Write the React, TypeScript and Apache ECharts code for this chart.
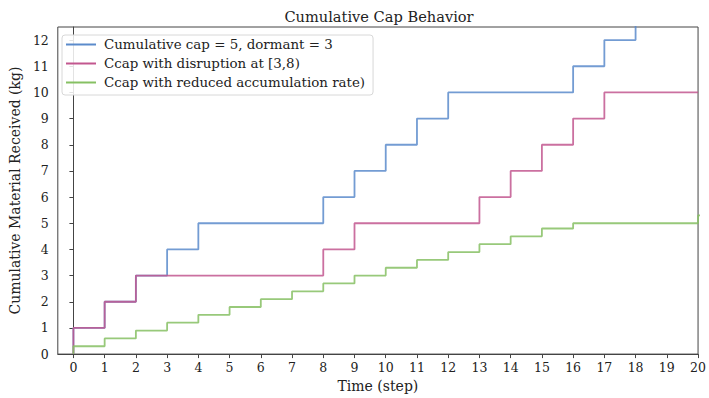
import React, { useEffect, useRef } from "react";
import * as echarts from "echarts";

const steps = [0, 1, 2, 3, 4, 5, 6, 7, 8, 9, 10, 11, 12, 13, 14, 15, 16, 17, 18, 19, 20, 21];
const cumulativeCap = [0, 1, 2, 3, 4, 5, 5, 5, 5, 6, 7, 8, 9, 10, 10, 10, 10, 11, 12, 13, 13];
const disruption = [0, 1, 2, 3, 3, 3, 3, 3, 3, 4, 5, 5, 5, 5, 6, 7, 8, 9, 10, 10, 10];
const reducedRate = [0, 0.3, 0.6, 0.9, 1.2, 1.5, 1.8, 2.1, 2.4, 2.7, 3.0, 3.3, 3.6, 3.9, 4.2, 4.5, 4.8, 5.0, 5.0, 5.0, 5.0, 5.3];
const seriesNames = [
  "Cumulative cap = 5, dormant = 3",
  "Ccap with disruption at [3,8)",
  "Ccap with reduced accumulation rate)",
];
const xTicks = [0, 1, 2, 3, 4, 5, 6, 7, 8, 9, 10, 11, 12, 13, 14, 15, 16, 17, 18, 19, 20];
const yTicks = [0, 1, 2, 3, 4, 5, 6, 7, 8, 9, 10, 11, 12];

const FONT = "DejaVu Serif";

function pairs(vals: number[]) {
  return vals.map((v, i) => [steps[i], v]);
}

export default function App() {
  const ref = useRef<HTMLDivElement>(null);
  useEffect(() => {
    if (!ref.current) return;
    const chart = echarts.init(ref.current, undefined, { renderer: "svg" });
    const colors = ["#5b8bcb", "#c2578f", "#86c063"];
    const datasets = [cumulativeCap, disruption, reducedRate];
    chart.setOption({
      animation: false,
      backgroundColor: "#ffffff",
      title: {
        text: "Cumulative Cap Behavior",
        left: 374,
        top: 4,
        textAlign: "center",
        textStyle: { fontFamily: FONT, fontSize: 14.6, fontWeight: "normal", color: "#222" },
      },
      grid: {
        left: 55,
        right: 7,
        top: 27,
        bottom: 40,
        show: true,
        borderColor: "#444",
        borderWidth: 1,
        backgroundColor: "transparent",
      },
      legend: {
        orient: "vertical",
        left: 62,
        top: 35,
        padding: [3, 8, 6, 4],
        itemGap: 6,
        itemWidth: 30,
        itemHeight: 2,
        icon: "rect",
        borderColor: "#d8d8d8",
        borderWidth: 1,
        borderRadius: 3,
        backgroundColor: "rgba(255,255,255,0.85)",
        textStyle: { fontFamily: FONT, fontSize: 13.4, color: "#222", padding: [0, 0, 0, 3] },
        data: seriesNames,
      },
      xAxis: {
        type: "value",
        min: -0.5,
        max: 20,
        name: "Time (step)",
        nameLocation: "middle",
        nameGap: 24,
        nameTextStyle: { fontFamily: FONT, fontSize: 14, color: "#222" },
        axisLine: { show: true, lineStyle: { color: "#444" } },
        axisTick: { show: true, length: 4, lineStyle: { color: "#444" }, customValues: xTicks },
        axisLabel: {
          fontFamily: FONT,
          fontSize: 12.5,
          color: "#222",
          margin: 7,
          customValues: xTicks,
        },
        splitLine: { show: false },
      },
      yAxis: {
        type: "value",
        min: 0,
        max: 12.5,
        name: "Cumulative Material Received (kg)",
        nameLocation: "middle",
        nameGap: 34,
        nameTextStyle: { fontFamily: FONT, fontSize: 14, color: "#222" },
        axisLine: { show: true, lineStyle: { color: "#444" } },
        axisTick: { show: true, length: 4, lineStyle: { color: "#444" }, customValues: yTicks },
        axisLabel: {
          fontFamily: FONT,
          fontSize: 12.5,
          color: "#222",
          margin: 9,
          customValues: yTicks,
        },
        splitLine: { show: false },
      },
      series: datasets.map((d, i) => ({
        name: seriesNames[i],
        type: "line",
        step: "start",
        data: pairs(d),
        symbol: "none",
        clip: true,
        color: colors[i],
        itemStyle: { color: colors[i] },
        lineStyle: { color: colors[i], width: 1.8, opacity: 0.85 },
      })),
    });
    return () => chart.dispose();
  }, []);
  return (
    <div
      ref={ref}
      style={{ position: "fixed", left: 0, top: 0, width: 709, height: 398 }}
    />
  );
}
